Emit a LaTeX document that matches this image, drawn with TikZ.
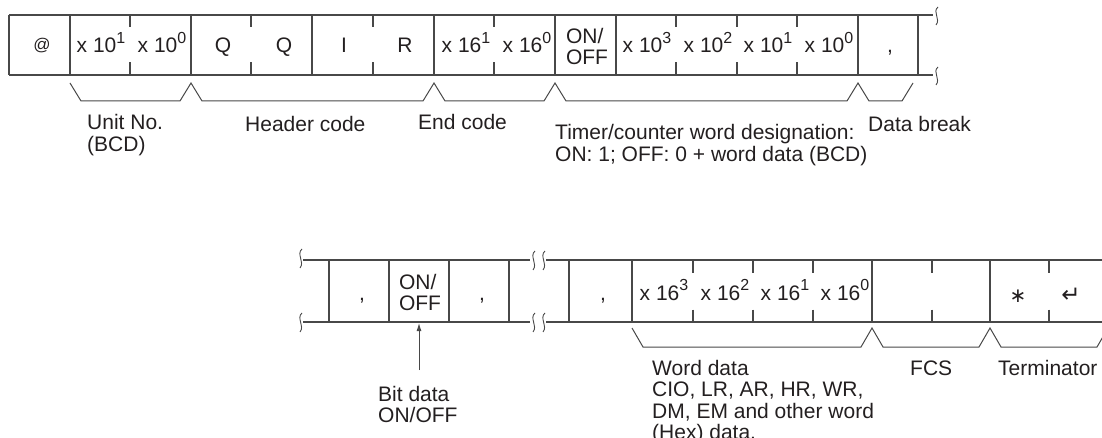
\documentclass[tikz,border=0pt]{standalone}
\usepackage{fontspec}
\setmainfont{Liberation Sans}
\newfontfamily\symfont{DejaVu Sans}
\usetikzlibrary{arrows.meta}
\definecolor{ink}{RGB}{35,31,32}
\definecolor{rule}{RGB}{72,72,72}
\newcommand\sups[1]{\raisebox{9.5pt}{\fontsize{16}{16}\selectfont #1}}
\begin{document}
\begin{tikzpicture}[x=1pt,y=-1pt,
  every node/.style={inner sep=0pt, text=ink, font=\fontsize{21}{21.5}\selectfont},
  celltxt/.style={anchor=base},
  twoline/.style={align=left, anchor=center},
  lbl/.style={anchor=base west, align=left},
  rowline/.style={draw=rule, line width=1.1pt},
  squig/.style={draw=rule, line width=0.9pt},
  brk/.style={draw=rule, line width=1pt, line join=miter},
  arr/.style={draw=rule, line width=1pt, -{Latex[length=8pt,width=5pt]}}]
\useasboundingbox (0,0) rectangle (1102,438);

% ---------- top row ----------
\draw[rowline] (9,15) -- (933,15) (9,75) -- (933,75);
\foreach \x in {9,70,191,312,434,555,616,858,918}
  \draw[rowline] (\x,15) -- (\x,75);
\foreach \x in {130,251,373,494,676,737,797}
  \draw[rowline] (\x,15) -- (\x,27.5) (\x,62.5) -- (\x,75);
\draw[squig] (938,7) .. controls (932,12) and (941,19) .. (936,25);
\draw[squig] (938,67) .. controls (932,72) and (941,79) .. (936,85);

\node[celltxt] (at) at (42,51) {\fontsize{17}{17}\selectfont @};
\node[celltxt] (u1) at (101,53) {x 10\sups{1}};
\node[celltxt] (u0) at (162,53) {x 10\sups{0}};
\node[celltxt] (h1) at (223,53) {Q};
\node[celltxt] (h2) at (284,53) {Q};
\node[celltxt] (h3) at (344,53) {I};
\node[celltxt] (h4) at (405,53) {R};
\node[celltxt] (e1) at (466,53) {x 16\sups{1}};
\node[celltxt] (e0) at (527,53) {x 16\sups{0}};
\node[twoline] (oo1) at (587,46.5) {ON/\\OFF};
\node[celltxt] (t3) at (647,53) {x 10\sups{3}};
\node[celltxt] (t2) at (708,53) {x 10\sups{2}};
\node[celltxt] (t1) at (768,53) {x 10\sups{1}};
\node[celltxt] (t0) at (829,53) {x 10\sups{0}};
\node[celltxt] (cm1) at (890,53) {,};

% top brackets
\draw[brk] (70,83) -- (81,101) -- (180,101) -- (191,83) -- (202,101)
  -- (423,101) -- (434,83) -- (445,101) -- (544,101) -- (555,83)
  -- (566,101) -- (847,101) -- (858,83) -- (869,101) -- (902,101) -- (913,83);

% labels: base anchor is the baseline of the last line
\node[lbl] (lunit) at (87,151.5) {Unit No.\\(BCD)};
\node[lbl] (lhead) at (245,132) {Header code};
\node[lbl] (lend) at (418,130) {End code};
\node[lbl] (ltim) at (555,161.5) {Timer/counter word designation:\\ON: 1; OFF: 0 + word data (BCD)};
\node[lbl] (ldb) at (868,132) {Data break};

% ---------- bottom row ----------
\draw[rowline] (303,260) -- (530,260) (546,260) -- (1112,260)
               (303,322) -- (530,322) (546,322) -- (1112,322);
\foreach \x in {329,389,449,509,569,632,872,990}
  \draw[rowline] (\x,260) -- (\x,322);
\foreach \x in {693,753,813,932,1049}
  \draw[rowline] (\x,260) -- (\x,272.5) (\x,309.5) -- (\x,322);
\draw[squig] (302,249) .. controls (296,254) and (305,262) .. (300,268);
\draw[squig] (302,313) .. controls (296,318) and (305,326) .. (300,332);
\foreach \x in {535,545}{
  \draw[squig] (\x,251) .. controls (\x-6,256) and (\x+3,264) .. (\x-2,270);
  \draw[squig] (\x,313) .. controls (\x-6,318) and (\x+3,326) .. (\x-2,332);
}

\node[celltxt] (cm2) at (362,300) {,};
\node[twoline] (oo2) at (420,292.5) {ON/\\OFF};
\node[celltxt] (cm3) at (482,300) {,};
\node[celltxt] (cm4) at (603,300) {,};
\node[celltxt] (w3) at (664,300) {x 16\sups{3}};
\node[celltxt] (w2) at (725,300) {x 16\sups{2}};
\node[celltxt] (w1) at (785,300) {x 16\sups{1}};
\node[celltxt] (w0) at (845,300) {x 16\sups{0}};
\node (ast) at (1018,296) {\symfont\fontsize{20}{20}\selectfont ∗};
\node (ret) at (1071,295) {\symfont\fontsize{23}{23}\selectfont ↵};

% bottom brackets
\draw[brk] (632,328) -- (643,347) -- (861,347) -- (872,328) -- (883,347)
  -- (979,347) -- (990,328) -- (1001,347) -- (1097,347) -- (1108,328);

% arrow to bit data cell
\coordinate (bitcell) at (419,323);
\coordinate (arrfoot) at (419,370);
\draw[arr] (arrfoot) -- (bitcell);

\node[lbl] (lbit) at (378,422.5) {Bit data\\ON/OFF};
\node[lbl] (lword) at (652,439.5) {Word data\\CIO, LR, AR, HR, WR,\\DM, EM and other word\\(Hex) data.};
\node[lbl] (lfcs) at (910,375) {FCS};
\node[lbl] (lterm) at (998,375) {Terminator};
\end{tikzpicture}
\end{document}
